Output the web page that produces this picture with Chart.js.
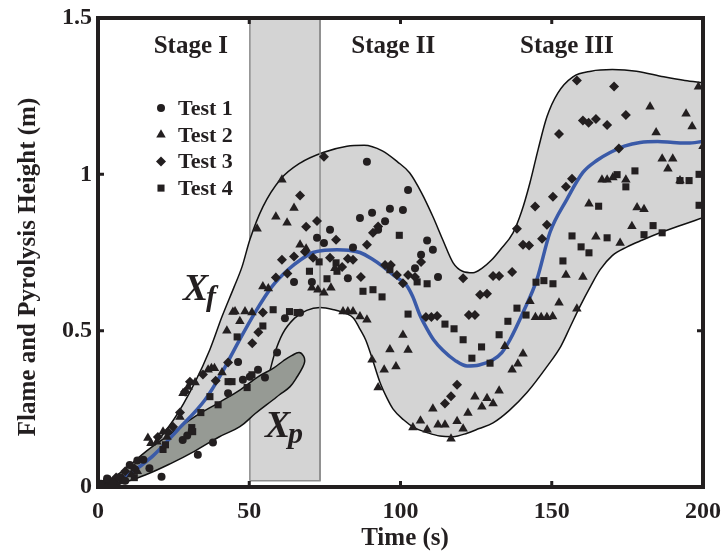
<!DOCTYPE html>
<html><head><meta charset="utf-8">
<script src="https://cdn.jsdelivr.net/npm/chart.js@4.4.1/dist/chart.umd.min.js"></script>
<style>html,body{margin:0;padding:0;background:#fff;}#wrap{width:726px;height:556px;position:relative;}</style>
</head><body><div id="wrap"><canvas id="c"></canvas></div>
<script>
// ---------- data ----------
const xTicks = [0, 50, 100, 150, 200];
const yTicks = [0, 0.5, 1, 1.5];
const stageLabels = ['Stage I', 'Stage II', 'Stage III'];
const seriesNames = ['Test 1', 'Test 2', 'Test 3', 'Test 4'];
const transitionStart = 50.2, transitionEnd = 73.4;  // shaded transition band (s)

const test1 = [[1,0.01],[3,0.027],[5,0.015],[7,0.03],[9,0.02],[10.5,0.07],[13,0.085],[15,0.087],[17,0.06],[21,0.033],
 [28,0.15],[29.5,0.165],[31,0.18],[33,0.103],[38,0.142],[43,0.30],[46.3,0.40],[47.9,0.343],[50.2,0.353],[52.9,0.375],
 [55.2,0.35],[59.2,0.43],[61.8,0.54],[64.8,0.656],[66.8,0.557],[70.7,0.656],[72.4,0.797],[74.7,0.78],[76.7,0.823],[82.6,0.668],
 [84.3,0.766],[86.6,0.86],[88.9,1.04],[90.6,0.877],[92.6,0.823],[94.9,0.85],[96.5,0.89],[100.8,0.886],[102.5,0.95],[104.8,0.70],
 [106.8,0.743],[108.8,0.788],[110.7,0.759],[112.4,0.672]];

const test2 = [[2,0.01],[4,0.02],[6,0.015],[8,0.03],[11,0.04],[13,0.05],
 [16.5,0.157],[17.5,0.14],[19.5,0.145],[21.5,0.177],[22.8,0.16],[27.1,0.224],[28.1,0.30],[29.8,0.32],[32.1,0.334],[36.4,0.375],
 [37.5,0.38],[38.5,0.38],[41,0.366],[42.6,0.50],[44.6,0.56],[45.3,0.561],[46.9,0.53],[48.6,0.561],[50.9,0.558],[52.6,0.826],
 [54.5,0.641],[56.3,0.635],[58.8,0.864],[60.8,0.983],[62.5,0.845],[64.8,0.892],[66.8,0.775],[68.8,0.762],[70.7,0.637],[72.7,0.631],
 [74.7,0.621],[77,0.637],[78.3,0.70],[81,0.561],[82.6,0.561],[84.3,0.561],[86.6,0.545],[88.9,0.535],[90.6,0.407],[92.6,0.318],
 [94.6,0.375],[96.5,0.44],[98.5,0.385],[100.8,0.486],[102.5,0.438],[104.1,0.19],[106.6,0.212],[108.8,0.183],[110.7,0.25],[112.4,0.199],
 [114.7,0.199],[116.7,0.154],[118.7,0.21],[120.7,0.186],[122.3,0.237],[124.6,0.289],[126.9,0.257],[128.6,0.284],[130.6,0.267],[132.6,0.308],
 [134.5,0.45],[136.9,0.375],[138.8,0.394],[140.5,0.426],[142.8,0.594],[144.6,0.543],[146.5,0.543],[148.4,0.543],[150.3,0.545],[152.4,0.589],
 [154.7,0.678],[158.3,0.57],[160.3,0.672],[162.3,0.906],[164.6,0.80],[166.6,0.983],[168.3,0.983],[170.2,0.99],[172.6,0.78],[174.5,0.983],
 [176.5,0.834],[178.2,0.894],[180.5,0.888],[182.5,1.216],[184.5,1.134],[186.5,1.05],[188.4,1.018],[190,1.05],[192.4,0.98],[194.4,1.194],
 [196.4,1.153],[198.5,1.28],[200,1.09]];

const test3 = [[3,0.02],[6,0.03],[9,0.05],[12,0.06],
 [19.8,0.16],[23.1,0.177],[24.8,0.193],[27.1,0.238],[28.8,0.305],[30.4,0.337],[34.7,0.36],[38.9,0.34],[43,0.398],[51,0.46],
 [53,0.495],[54.5,0.558],[58.8,0.67],[60.8,0.727],[62.6,0.683],[64.8,0.737],[66.8,0.932],[68.4,0.752],[68.8,0.832],[71.1,0.733],
 [72.4,0.851],[74.7,1.056],[76.7,0.733],[78.7,0.791],[80.7,0.704],[82.6,0.73],[84.3,0.727],[86.9,0.672],[88.9,0.775],[90.9,0.813],
 [92.6,0.833],[94.9,0.71],[96.8,0.71],[98.8,0.678],[100.8,0.652],[102.5,0.678],[104.8,0.672],[106.8,0.72],[108.4,0.544],[110.2,0.544],
 [112.1,0.547],[114.7,0.267],[116.7,0.29],[118.7,0.327],[120.7,0.668],[122.6,0.55],[124.6,0.55],[126.3,0.615],[128.6,0.618],[130.6,0.675],
 [132.6,0.675],[136.9,0.688],[138.5,0.826],[140.5,0.775],[142.5,0.772],[144.5,0.897],[146.8,0.794],[148.4,0.839],[150.4,0.928],[152.4,1.129],
 [154.7,0.96],[156.7,0.986],[158.3,1.30],[160.3,1.172],[162.2,1.165],[164.6,1.177],[168.3,1.158],[170.6,1.281],[172.2,1.083],[174.5,1.19]];

const test4 = [[4,0.01],[8,0.02],[12,0.03],
 [21.5,0.12],[22.3,0.135],[31,0.19],[31.3,0.177],[34,0.238],[37,0.289],[39.7,0.263],[43,0.337],[44.3,0.337],[46,0.48],[49.3,0.318],
 [50.9,0.359],[54.5,0.515],[57.9,0.567],[63.3,0.561],[65.8,0.558],[69.9,0.69],[73.1,0.72],[75.7,0.666],[78.7,0.717],[79,0.69],
 [87.6,0.626],[90.9,0.631],[93.9,0.608],[96.5,0.695],[99.6,0.805],[102.5,0.553],[105.5,0.656],[108.8,0.65],[114.7,0.521],[117.7,0.506],
 [120.7,0.471],[123.6,0.412],[126.8,0.448],[129.6,0.396],[132.6,0.487],[135.5,0.53],[138.5,0.572],[141.5,0.55],[144.8,0.655],[147.4,0.66],
 [150.4,0.65],[153.7,0.723],[156.7,0.803],[159.7,0.768],[162.3,0.749],[165.5,0.898],[168.3,0.797],[171.6,0.999],[174.5,0.96],[177.5,1.011],
 [180.5,0.807],[183.5,0.836],[186.5,0.813],[192.4,0.98],[195.4,0.98],[198.7,1.0],[198.7,0.901]];

// upper / lower envelope of the flame height, mean flame height Xf, pyrolysis region Xp
const upperEnvelope = [[0,0],[8,0.045],[15,0.097],[25,0.215],[32,0.334],[37,0.44],[41,0.545],[45,0.64],[47.6,0.704],[50.2,0.791],
 [54.5,0.896],[60.2,0.983],[66.8,1.036],[74.4,1.07],[82.3,1.09],[88,1.093],[94,1.075],[99,1.04],[103,1.005],[107,0.94],
 [110.7,0.865],[114,0.79],[117.4,0.717],[120.5,0.69],[124,0.685],[127,0.70],[130,0.725],[133,0.759],[137.2,0.813],[140,0.88],
 [142.8,0.973],[145.5,1.08],[148.4,1.184],[152,1.26],[157,1.312],[163,1.33],[170,1.335],[178,1.33],[187,1.312],[194,1.30],[200,1.293]];
const lowerEnvelope = [[0,0],[10,0.022],[20,0.06],[30,0.11],[40,0.17],[50,0.23],[54,0.28],[56.5,0.36],[58.5,0.43],[61,0.49],
 [65,0.54],[69,0.565],[73.4,0.574],[78,0.567],[82,0.555],[84.5,0.54],[86.6,0.505],[88.5,0.47],[90.5,0.415],[93.2,0.335],
 [95.5,0.285],[97.5,0.25],[101,0.215],[104.5,0.19],[108.8,0.174],[113,0.163],[117.4,0.161],[122,0.172],[126,0.187],[130.6,0.205],
 [136,0.245],[141.8,0.302],[148.4,0.385],[153,0.45],[156,0.51],[159.3,0.577],[163,0.645],[166,0.695],[170,0.74],[174.9,0.768],
 [180,0.79],[185.8,0.813],[192,0.835],[200,0.861]];
const meanFlame = [[2,0.005],[6,0.02],[10,0.04],[17.9,0.097],[26.4,0.183],[35.4,0.279],[41,0.366],[46.3,0.462],[51.9,0.558],[57.5,0.641],
 [62.8,0.695],[67,0.727],[71.1,0.75],[75,0.757],[79,0.759],[83,0.757],[86.6,0.75],[90.5,0.73],[94.2,0.705],[98,0.675],
 [102,0.645],[104,0.61],[106.4,0.55],[108.8,0.505],[111,0.47],[114,0.437],[118,0.405],[122,0.387],[126,0.39],[130.6,0.407],
 [133.5,0.43],[136.2,0.471],[140.5,0.558],[145.1,0.664],[149.4,0.814],[155,0.92],[160.3,1.006],[165,1.045],[169.3,1.07],[174,1.09],
 [179.2,1.102],[185,1.105],[190.1,1.102],[195,1.10],[200,1.105]];
const pyrolysisRegion = [[0,0],[8,0.05],[16,0.115],[24,0.17],[32,0.225],[40,0.27],[47,0.311],[53,0.353],[58,0.38],[61.2,0.403],
 [64,0.42],[66.5,0.43],[68,0.418],[68.3,0.40],[67.5,0.38],[66,0.355],[63.5,0.321],[60,0.295],[57.9,0.279],[52,0.235],
 [46.9,0.193],[40,0.16],[32,0.115],[24,0.075],[16,0.04],[8,0.013],[0,0]];

// ---------- chart ----------
const toXY = a => a.map(([x, y]) => ({x, y}));
const INK = '#231f20';
const SERIF = '"Liberation Serif", "Times New Roman", Times, serif';

const pointSet = (label, data, style, r) => ({
  label, data: toXY(data), showLine: false, pointStyle: style, pointRadius: r,
  pointBackgroundColor: INK, pointBorderColor: INK, pointBorderWidth: 0, order: 0
});
const lineSet = (label, data, color, width, extra) => Object.assign({
  label, data: toXY(data), showLine: true, pointRadius: 0, borderColor: color, borderWidth: width,
  backgroundColor: 'rgba(0,0,0,0)', fill: false
}, extra);

const datasets = [
  pointSet(seriesNames[0], test1, 'circle', 4),        // 0
  pointSet(seriesNames[1], test2, 'triangle', 5.5),    // 1
  pointSet(seriesNames[2], test3, 'rectRot', 5),       // 2
  pointSet(seriesNames[3], test4, 'rect', 5),          // 3
  lineSet('Xf', meanFlame, '#3a5aa8', 3.5, {cubicInterpolationMode: 'monotone', order: 1}),   // 4
  lineSet('Xp', pyrolysisRegion, '#111', 1.5, {tension: 0.4, fill: 'shape', backgroundColor: '#969a94', order: 2}), // 5
  lineSet('band edge', [[transitionEnd, 0.02], [transitionEnd, 1.5]], '#8c8c8c', 1.5, {order: 3}), // 6
  lineSet('upper', upperEnvelope, '#111', 1.5, {cubicInterpolationMode: 'monotone', fill: 8, backgroundColor: '#d4d4d4', order: 5}), // 7
  lineSet('lower', lowerEnvelope, '#111', 1.5, {cubicInterpolationMode: 'monotone', order: 4}), // 8
  lineSet('band', [[transitionStart, 0.02], [transitionStart, 1.5], [transitionEnd, 1.5], [transitionEnd, 0.02], [transitionStart, 0.02]],
          '#8c8c8c', 1.5, {tension: 0, fill: 'shape', backgroundColor: '#d4d4d4', order: 6}) // 9
];

function drawMarker(ctx, style, r, x, y) {
  if (Chart.helpers && Chart.helpers.drawPoint) {
    Chart.helpers.drawPoint(ctx, {pointStyle: style, radius: r, borderWidth: 0, rotation: 0}, x, y);
  }
}

const decor = {
  id: 'decor',
  afterDatasetsDraw(chart) {
    const {ctx, chartArea: a, scales: {x, y}} = chart;
    ctx.save();
    // frame
    ctx.strokeStyle = INK; ctx.lineWidth = 4;
    ctx.strokeRect(a.left, a.top, a.right - a.left, a.bottom - a.top);
    // inward ticks
    ctx.lineWidth = 3;
    ctx.beginPath();
    xTicks.slice(1, -1).forEach(v => {
      const p = x.getPixelForValue(v);
      ctx.moveTo(p, a.bottom); ctx.lineTo(p, a.bottom - 6);
      ctx.moveTo(p, a.top); ctx.lineTo(p, a.top + 6);
    });
    yTicks.slice(1, -1).forEach(v => {
      const p = y.getPixelForValue(v);
      ctx.moveTo(a.left, p); ctx.lineTo(a.left + 6, p);
      ctx.moveTo(a.right, p); ctx.lineTo(a.right - 6, p);
    });
    ctx.stroke();

    ctx.fillStyle = INK;
    ctx.textBaseline = 'alphabetic';
    // stage labels
    ctx.font = 'bold 25px ' + SERIF; ctx.textAlign = 'center';
    [[30.7, stageLabels[0]], [97.6, stageLabels[1]], [155, stageLabels[2]]].forEach(([xv, t]) => {
      ctx.fillText(t, x.getPixelForValue(xv), y.getPixelForValue(1.389));
    });
    // legend
    const styles = [['circle', 4], ['triangle', 5.5], ['rectRot', 5], ['rect', 5]];
    ctx.textAlign = 'left'; ctx.font = 'bold 22px ' + SERIF;
    seriesNames.forEach((n, i) => {
      const my = 108 + i * 26.7;
      drawMarker(ctx, styles[i][0], styles[i][1], 161, my);
      ctx.fillText(n, 178, my + 7);
    });
    // Xf / Xp labels
    const lbl = (xv, yv, sub) => {
      const px = x.getPixelForValue(xv), py = y.getPixelForValue(yv);
      ctx.font = 'italic bold 38px ' + SERIF; ctx.fillText('X', px, py);
      ctx.font = 'italic bold 30px ' + SERIF; ctx.fillText(sub, px + 23, py + 6);
    };
    lbl(28.1, 0.599, 'f');
    lbl(55.2, 0.161, 'p');
    // axis titles
    ctx.font = 'bold 25px ' + SERIF; ctx.textAlign = 'center';
    ctx.fillText('Time (s)', 405, 545);
    ctx.translate(35, 267); ctx.rotate(-Math.PI / 2);
    ctx.fillText('Flame and Pyrolysis Height (m)', 0, 0);
    ctx.restore();
  }
};

const tickFont = {family: SERIF, weight: 'bold', size: 24};
const plain = v => String(v);
new Chart(document.getElementById('c'), {
  type: 'scatter',
  data: {datasets},
  options: {
    responsive: true, maintainAspectRatio: false, animation: false, events: [],
    devicePixelRatio: 1,
    layout: {padding: {top: 18, right: 23, left: 0, bottom: 0}},
    plugins: {legend: {display: false}, tooltip: {enabled: false}},
    scales: {
      x: {type: 'linear', min: 0, max: 200,
          afterFit: s => { s.height = 69; s.paddingRight = 0; s.paddingLeft = 0; },
          afterBuildTicks: s => { s.ticks = xTicks.map(v => ({value: v})); },
          ticks: {font: tickFont, color: INK, padding: 10, maxRotation: 0, callback: plain},
          grid: {display: false, drawTicks: false}, border: {display: false}},
      y: {type: 'linear', min: 0, max: 1.5,
          afterFit: s => { s.width = 98; s.paddingTop = 0; s.paddingBottom = 0; },
          afterBuildTicks: s => { s.ticks = yTicks.map(v => ({value: v})); },
          ticks: {font: tickFont, color: INK, padding: 6, callback: plain},
          grid: {display: false, drawTicks: false}, border: {display: false}}
    }
  },
  plugins: [decor]
});
</script></body></html>
